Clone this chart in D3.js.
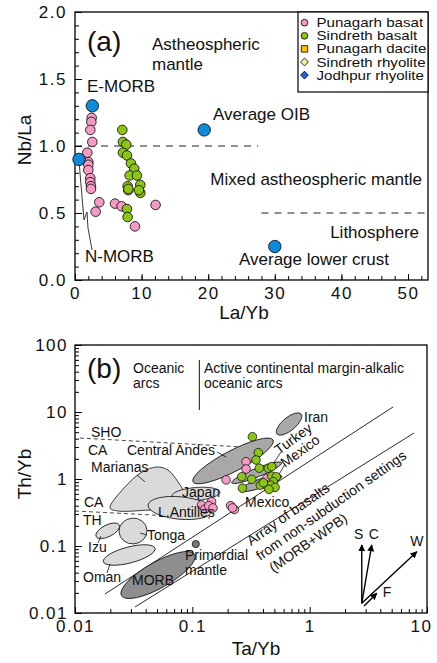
<!DOCTYPE html>
<html>
<head>
<meta charset="utf-8">
<script src="https://cdn.jsdelivr.net/npm/d3@7"></script>
<style>
    body { margin: 0; background: #fff; }
    svg text { font-family: "Liberation Sans", Arial, sans-serif; fill: #111; }
    .tick-label { font-size: 17px; letter-spacing: 1.5px; }
    .axis-title { font-size: 19px; }
    .lbl-a { font-size: 17px; }
    .lbl-b { font-size: 14px; }
    .legend text { font-size: 12px; }
</style>
</head>
<body>
<svg id="chart" width="437" height="663"></svg>
<script>
// ---- panel (a) data: Nb/La vs La/Yb ----
const punagarhA = [[2.5,1.21],[2.45,1.18],[2.3,1.12],[2.6,1.03],[1.85,0.95],[2.0,0.88],[2.0,0.86],[2.0,0.82],
    [2.3,0.76],[2.3,0.73],[2.4,0.70],[2.4,0.68],[3.65,0.58],[3.1,0.51],[6.0,0.57],[7.0,0.55],[8.0,0.67],[9.0,0.40],[12.1,0.56]];
const sindrethA = [[7.1,1.12],[7.2,1.03],[7.7,1.01],[7.2,0.95],[7.8,0.93],[8.4,0.87],[8.9,0.83],[8.2,0.78],[9.3,0.78],
    [7.9,0.70],[9.8,0.71],[9.8,0.65],[8.0,0.68],[9.6,0.67],[7.8,0.53],[7.9,0.47]];
const referenceA = [[2.6,1.30],[0.6,0.90],[19.4,1.12],[30.0,0.25]];
const dashedA = [[[0,1.0],[27.5,1.0]],[[28,0.5],[53,0.5]]];
const nmorbLeader = [[0.6,0.888],[1.35,0.448],[1.8,0.507],[1.95,0.388],[2.56,0.224]];
const xTicksA = [0,10,20,30,40,50];
const yTicksA = [0,0.5,1,1.5,2];

// ---- panel (b) data: Th/Yb vs Ta/Yb ----
const punagarhB = [[0.287,1.81],[0.287,1.41],[0.194,0.97],[0.431,1.02],[0.425,0.81],[0.146,0.46],[0.120,0.41],
    [0.128,0.356],[0.138,0.40],[0.150,0.37],[0.212,0.40],[0.228,0.35],[0.220,0.37]];
const sindrethB = [[0.325,4.28],[0.365,2.47],[0.349,1.92],[0.372,1.45],[0.264,1.08],[0.321,0.99],[0.267,0.73],
    [0.445,1.45],[0.475,1.53],[0.475,1.10],[0.519,1.08],[0.490,0.91],[0.380,0.81],[0.466,0.81],[0.507,0.75],[0.403,0.88],[0.45,0.70]];
const primordialMantle = [0.107,0.107];
const marianasField = [[0.01988,0.369],[0.02617,0.734],[0.03726,1.27],[0.0500,1.51],[0.0620,1.36],[0.07552,0.902],
    [0.0884,0.539],[0.08332,0.369],[0.04358,0.345],[0.02326,0.333]];
const lightFields = [
    {name: "Japan", c: [0.1075,0.597], end: [0.1723,0.640], ratio: 0.27},
    {name: "L.Antilles", c: [0.0786,0.369], end: [0.1472,0.333], ratio: 0.35},
    {name: "Izu", c: [0.0190,0.1686], end: [0.02386,0.206], ratio: 0.45},
    {name: "Tonga", c: [0.03123,0.1674], end: [0.0411,0.173], ratio: 0.92},
    {name: "Oman", c: [0.02897,0.0734], end: [0.04808,0.0924], ratio: 0.30}
];
const darkFields = [
    {name: "MORB", c: [0.0510,0.0369], end: [0.1046,0.0749], ratio: 0.31},
    {name: "Central Andes", c: [0.2223,1.86], end: [0.4875,3.82], ratio: 0.23},
    {name: "Turkey", c: [0.354,1.24], end: [0.578,1.75], ratio: 0.16},
    {name: "Mexico", c: [0.3837,0.863], end: [0.578,1.109], ratio: 0.2},
    {name: "Iran", c: [0.6674,6.62], end: [0.845,9.33], ratio: 0.42}
];
const arrayLines = [[[0.0180,0.0192],[5.14,11.9]],[[0.0325,0.0123],[7.76,4.86]]];
const dashedB = [[[0.0110,4.09],[0.2706,3.00]],[[0.01,0.333],[0.1416,0.262]]];
const arcDivider = [[0.1147,59.7],[0.1147,10.7]];
const leadersB = [
    [[0.0338,1.15],[0.0395,0.902]],
    [[0.1624,2.53],[0.1938,2.13]],
    [[0.0358,0.156],[0.0411,0.146]],
    [[0.0157,0.111],[0.01667,0.141]],
    [[0.01874,0.0395],[0.01988,0.0539]],
    [[0.5705,2.53],[0.4688,1.51]],
    [[0.6171,1.67],[0.497,0.871]]
];
const vectors = [
    {label: "S", from: [2.78,0.01396], to: [2.78,0.1035]},
    {label: "C", from: [2.78,0.01396], to: [3.38,0.1035]},
    {label: "W", from: [2.78,0.01396], to: [8.19,0.0822]},
    {label: "F", from: [2.91,0.0127], to: [3.73,0.0197]}
];
const xTicksB = [0.01,0.1,1,10];
const yTicksB = [0.01,0.1,1,10,100];

const legendItems = [
    {text: "Punagarh basat", shape: "circle", fill: "#f59ac4"},
    {text: "Sindreth basalt", shape: "circle", fill: "#8cc516"},
    {text: "Punagarh dacite", shape: "square", fill: "#f7c200"},
    {text: "Sindreth rhyolite", shape: "diamond", fill: "#f6f29a"},
    {text: "Jodhpur rhyolite", shape: "diamond", fill: "#2563d8"}
];

const pink = "#f59ac4", green = "#8cc516", blue = "#0d8ad8";
const svg = d3.select("#chart");

svg.append("defs").append("marker")
    .attr("id", "arrow")
    .attr("viewBox", "0 0 10 10")
    .attr("refX", 9).attr("refY", 5)
    .attr("markerWidth", 7).attr("markerHeight", 7)
    .attr("markerUnits", "userSpaceOnUse")
    .attr("orient", "auto")
    .append("path").attr("d", "M0,0L10,5L0,10z").attr("fill", "#000");

function drawAxes(g, x, y, opts) {
    let xMajor = d3.axisBottom(x).tickValues(opts.xMajor).tickSize(-6).tickPadding(7).tickFormat(opts.fmt);
    let xMinor = d3.axisBottom(x).tickValues(opts.xMinor).tickSize(-4).tickFormat("");
    let yMajor = d3.axisLeft(y).tickValues(opts.yMajor).tickSize(-7).tickPadding(opts.yPad).tickFormat(opts.yFmt);
    let yMinor = d3.axisLeft(y).tickValues(opts.yMinor).tickSize(-4).tickFormat("");

    let y0 = y.range()[0];
    let x0 = x.range()[0];
    let xg = [xMinor, xMajor].map(ax => g.append("g").attr("transform", `translate(0, ${ y0 })`).call(ax));
    [yMinor, yMajor].forEach(ax => {
        g.append("g").attr("transform", `translate(${ x0 }, 0)`).call(ax);
    });
    g.selectAll(".domain").remove();
    g.selectAll(".tick line").attr("stroke", "#000").attr("stroke-width", 1);
    g.selectAll(".tick text")
        .attr("class", "tick-label")
        .attr("fill", "#111")
        .attr("font-family", null)
        .attr("font-size", null);

    g.append("rect")
        .attr("x", x0).attr("y", y.range()[1])
        .attr("width", x.range()[1] - x0)
        .attr("height", y0 - y.range()[1])
        .attr("fill", "none").attr("stroke", "#000").attr("stroke-width", 1.3);
    return xg[1];
}

function addText(g, txt, x, y, cls, anchor) {
    return g.append("text").attr("x", x).attr("y", y).attr("class", cls)
        .attr("text-anchor", anchor || "start").text(txt);
}

// ================= panel (a) =================
let ga = svg.append("g");
let xa = d3.scaleLinear().domain([0, 53]).range([75, 428]);
let ya = d3.scaleLinear().domain([0, 2]).range([280, 12]);

let lineA = d3.line().x(d => xa(d[0])).y(d => ya(d[1]));
ga.selectAll(".dash-a").data(dashedA).enter().append("path")
    .attr("d", lineA).attr("fill", "none").attr("stroke", "#222")
    .attr("stroke-width", 1.2).attr("stroke-dasharray", "7,6");
ga.append("path").attr("d", lineA(nmorbLeader)).attr("fill", "none").attr("stroke", "#222").attr("stroke-width", 0.9);

drawAxes(ga, xa, ya, {
    xMajor: xTicksA, xMinor: d3.range(0, 53, 2), fmt: d => d,
    yMajor: yTicksA, yMinor: d3.range(0, 2.01, 0.1), yFmt: d3.format(".1f"), yPad: 8
});

ga.selectAll(".pa").data(punagarhA).enter().append("circle")
    .attr("cx", d => xa(d[0])).attr("cy", d => ya(d[1])).attr("r", 4.8)
    .attr("fill", pink).attr("stroke", "#000").attr("stroke-width", 0.8);
ga.selectAll(".sa").data(sindrethA).enter().append("circle")
    .attr("cx", d => xa(d[0])).attr("cy", d => ya(d[1])).attr("r", 4.8)
    .attr("fill", green).attr("stroke", "#000").attr("stroke-width", 0.8);
ga.selectAll(".ra").data(referenceA).enter().append("circle")
    .attr("cx", d => xa(d[0])).attr("cy", d => ya(d[1])).attr("r", 6.2)
    .attr("fill", blue).attr("stroke", "#000").attr("stroke-width", 0.8);

addText(ga, "(a)", 87, 51, "").attr("font-size", 28);
addText(ga, "Astheospheric", 152, 50, "lbl-a");
addText(ga, "mantle", 152, 70, "lbl-a");
addText(ga, "E-MORB", 87, 92, "lbl-a");
addText(ga, "Average OIB", 213, 120, "lbl-a");
addText(ga, "Mixed astheospheric mantle", 422, 185, "lbl-a", "end");
addText(ga, "Lithosphere", 419, 238, "lbl-a", "end");
addText(ga, "Average lower crust", 239, 265, "lbl-a");
addText(ga, "N-MORB", 85, 262, "lbl-a");
addText(ga, "La/Yb", 244, 319, "axis-title", "middle");
ga.append("text").attr("class", "axis-title").attr("text-anchor", "middle")
    .attr("transform", "translate(31, 140) rotate(-90)").text("Nb/La");

// legend
let lg = ga.append("g").attr("class", "legend");
lg.append("rect").attr("x", 298).attr("y", 12).attr("width", 130).attr("height", 80)
    .attr("fill", "#fff").attr("stroke", "#000").attr("stroke-width", 1.2);
legendItems.forEach((item, i) => {
    let cy = 22.7 + i * 13.1;
    let sym = item.shape == "circle" ? d3.symbolCircle : d3.symbolSquare;
    let size = item.shape == "circle" ? 36 : (item.shape == "square" ? 42 : 30);
    lg.append("path")
        .attr("d", d3.symbol().type(sym).size(size)())
        .attr("transform", `translate(304.5, ${ cy }) rotate(${ item.shape == "diamond" ? 45 : 0 })`)
        .attr("fill", item.fill).attr("stroke", "#000").attr("stroke-width", 0.8);
    lg.append("text")
        .attr("transform", `translate(316.5, ${ cy + 4.5 }) scale(1.26, 1)`)
        .text(item.text);
});

// ================= panel (b) =================
let gb = svg.append("g");
let xb = d3.scaleLog().domain([0.01, 10]).range([75, 427]);
let yb = d3.scaleLog().domain([0.01, 100]).range([613, 345]);
let lineB = d3.line().x(d => xb(d[0])).y(d => yb(d[1]));

function drawEllipse(g, f, fill) {
    let cx = xb(f.c[0]), cy = yb(f.c[1]);
    let dx = xb(f.end[0]) - cx, dy = yb(f.end[1]) - cy;
    let a = Math.hypot(dx, dy);
    let ang = Math.atan2(dy, dx) * 180 / Math.PI;
    g.append("ellipse")
        .attr("cx", cx).attr("cy", cy).attr("rx", a).attr("ry", a * f.ratio)
        .attr("transform", `rotate(${ ang } ${ cx } ${ cy })`)
        .attr("fill", fill).attr("stroke", "#111").attr("stroke-width", 0.8);
}

gb.selectAll(".arr").data(arrayLines).enter().append("path")
    .attr("d", lineB).attr("fill", "none").attr("stroke", "#111").attr("stroke-width", 0.9);
gb.selectAll(".dash-b").data(dashedB).enter().append("path")
    .attr("d", lineB).attr("fill", "none").attr("stroke", "#333")
    .attr("stroke-width", 0.9).attr("stroke-dasharray", "4,3");
gb.append("path").attr("d", lineB(arcDivider)).attr("stroke", "#111").attr("stroke-width", 1);

gb.append("path")
    .attr("d", d3.line().x(d => xb(d[0])).y(d => yb(d[1])).curve(d3.curveCatmullRomClosed)(marianasField))
    .attr("fill", "#dadada").attr("stroke", "#111").attr("stroke-width", 0.8);
lightFields.forEach(f => drawEllipse(gb, f, "#dadada"));
darkFields.forEach((f, i) => drawEllipse(gb, f, i == 0 ? "#8e8e8e" : "#a8a8a8"));

gb.selectAll(".leader").data(leadersB).enter().append("path")
    .attr("d", lineB).attr("fill", "none").attr("stroke", "#111").attr("stroke-width", 0.8);

vectors.forEach(v => {
    gb.append("path").attr("d", lineB([v.from, v.to]))
        .attr("stroke", "#000").attr("stroke-width", 1.4).attr("marker-end", "url(#arrow)");
});

gb.append("circle").attr("cx", xb(primordialMantle[0])).attr("cy", yb(primordialMantle[1])).attr("r", 3.6)
    .attr("fill", "#777").attr("stroke", "#111").attr("stroke-width", 0.8);

gb.selectAll(".pb").data(punagarhB).enter().append("circle")
    .attr("cx", d => xb(d[0])).attr("cy", d => yb(d[1])).attr("r", 4.3)
    .attr("fill", pink).attr("stroke", "#000").attr("stroke-width", 0.7);
gb.selectAll(".sb").data(sindrethB).enter().append("circle")
    .attr("cx", d => xb(d[0])).attr("cy", d => yb(d[1])).attr("r", 4.3)
    .attr("fill", green).attr("stroke", "#000").attr("stroke-width", 0.7);

let minorLog = (lo, hi) => {
    let out = [];
    for (let e = lo; e < hi; e++) for (let m = 2; m <= 9; m++) out.push(m * Math.pow(10, e));
    return out;
};
let xAxisB = drawAxes(gb, xb, yb, {
    xMajor: xTicksB, xMinor: minorLog(-2, 1), fmt: d3.format("~g"),
    yMajor: yTicksB, yMinor: minorLog(-2, 2), yFmt: d3.format("~g"), yPad: 7
});
// last label sits against the page edge, as in the original
xAxisB.selectAll(".tick text").filter(d => d == 10).attr("dx", -6);

addText(gb, "(b)", 87, 378, "").attr("font-size", 28);
addText(gb, "Oceanic", 133, 373, "lbl-b").attr("font-size", 15.5);
addText(gb, "arcs", 133, 388, "lbl-b").attr("font-size", 15.5);
addText(gb, "Active continental margin-alkalic", 204, 373, "lbl-b").attr("font-size", 15.5);
addText(gb, "oceanic arcs", 204, 388, "lbl-b").attr("font-size", 15.5);
addText(gb, "SHO", 91, 437, "lbl-b");
addText(gb, "CA", 88, 455, "lbl-b").attr("font-size", 13.5);
addText(gb, "Central Andes", 127, 455, "lbl-b");
addText(gb, "Marianas", 91, 472, "lbl-b").attr("font-size", 13.5);
addText(gb, "CA", 84, 507, "lbl-b");
addText(gb, "TH", 83, 525, "lbl-b");
addText(gb, "Japan", 182, 497, "lbl-b");
addText(gb, "L.Antilles", 158, 517, "lbl-b");
addText(gb, "Tonga", 147, 540, "lbl-b");
addText(gb, "Izu", 88, 552, "lbl-b");
addText(gb, "Oman", 83, 582, "lbl-b");
addText(gb, "MORB", 132, 585, "lbl-b");
addText(gb, "Primordial", 185, 560, "lbl-b");
addText(gb, "mantle", 185, 575, "lbl-b");
addText(gb, "Iran", 304, 422, "lbl-b");
addText(gb, "Mexico", 245, 507, "lbl-b");
gb.append("text").attr("class", "lbl-b").attr("transform", "translate(279, 455) rotate(-36)").text("Turkey");
gb.append("text").attr("class", "lbl-b").attr("transform", "translate(285, 468) rotate(-36)").text("Mexico");
let arrTxt = gb.append("g").attr("transform", "translate(251, 546) rotate(-35)");
arrTxt.append("text").attr("class", "lbl-b").attr("x", 0).attr("y", 0).text("Array of basalts");
arrTxt.append("text").attr("class", "lbl-b").attr("x", -1).attr("y", 17.5).text("from non-subduction settings");
arrTxt.append("text").attr("class", "lbl-b").attr("x", 3).attr("y", 35).text("(MORB+WPB)");
vectors.forEach(v => {
    let tx = xb(v.to[0]), ty = yb(v.to[1]);
    let pos = {S: [tx - 3, ty - 6, "middle"], C: [tx + 2, ty - 6, "middle"], W: [tx, ty - 6, "middle"], F: [tx + 6, ty + 4, "start"]}[v.label];
    addText(gb, v.label, pos[0], pos[1], "lbl-b", pos[2]);
});

addText(gb, "Ta/Yb", 256, 655, "axis-title", "middle");
gb.append("text").attr("class", "axis-title").attr("text-anchor", "middle")
    .attr("transform", "translate(31, 474) rotate(-90)").text("Th/Yb");
</script>
</body>
</html>
